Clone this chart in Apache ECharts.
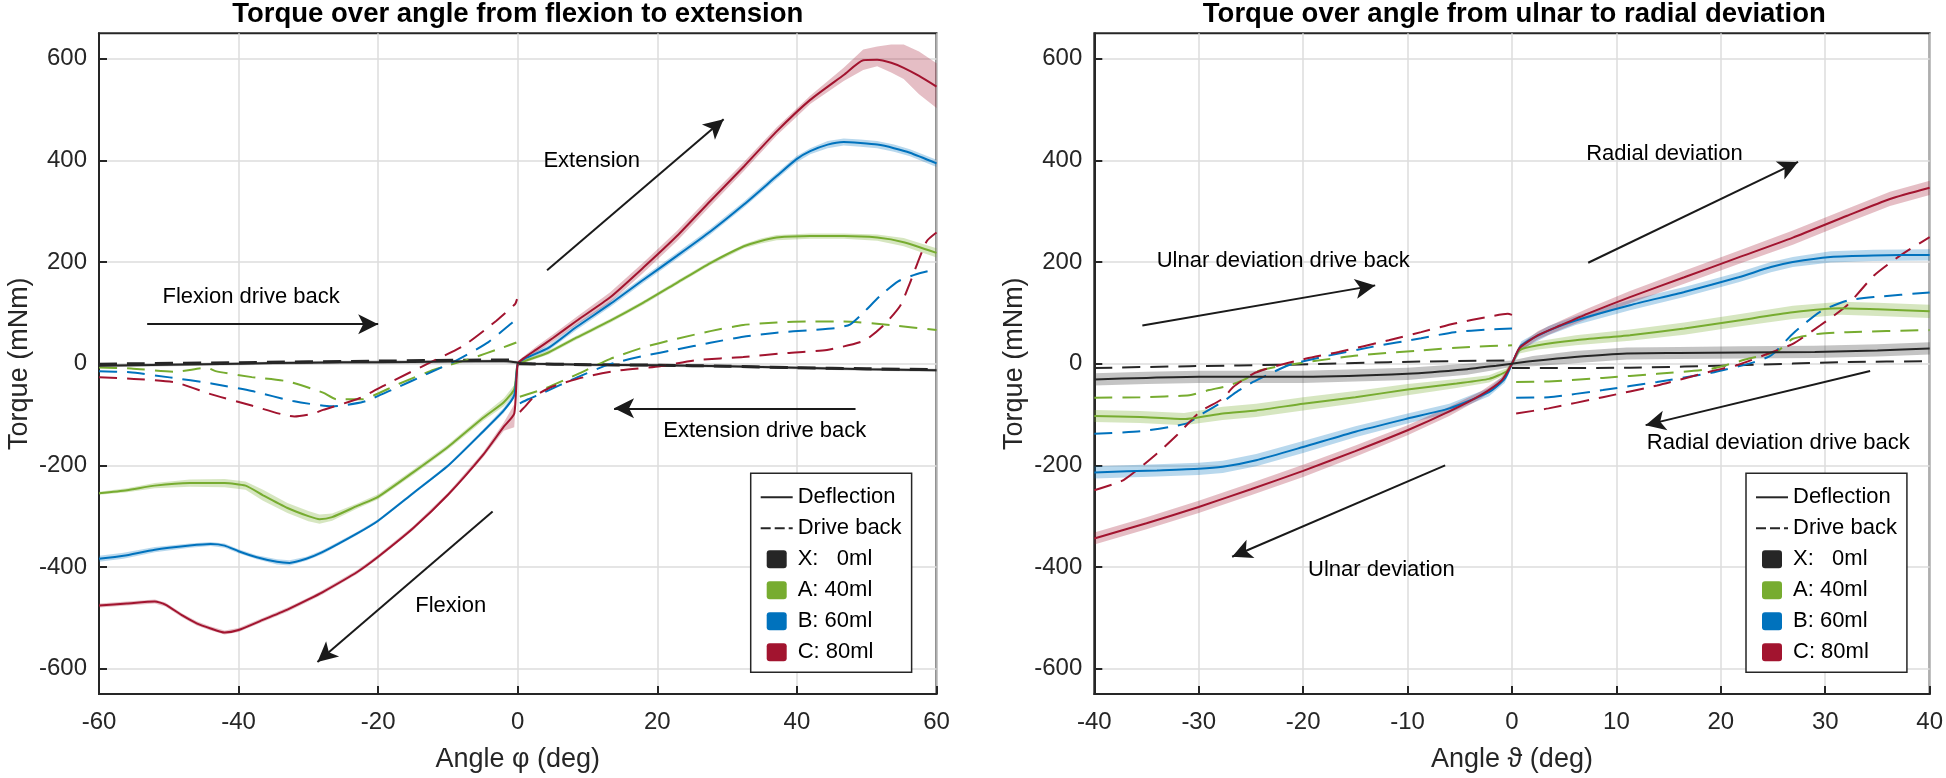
<!DOCTYPE html>
<html><head><meta charset="utf-8">
<script src="https://cdn.jsdelivr.net/npm/echarts@6/dist/echarts.min.js"></script>
<style>html,body{margin:0;padding:0;background:#fff}#c{width:1946px;height:778px}</style>
</head><body><div id="c"></div>
<script>
// ---------------- DATA ----------------
const panelTitles = ['Torque over angle from flexion to extension', 'Torque over angle from ulnar to radial deviation'];
const xAxisNames = ['Angle φ (deg)', 'Angle ϑ (deg)'];
const yAxisName = 'Torque (mNm)';
const xRanges = [[-60, 60, 20], [-40, 40, 10]];
const yRange = [-650, 650];
const yTickValues = [-600, -400, -200, 0, 200, 400, 600];
const legendLabels = ['Deflection', 'Drive back', 'X:   0ml', 'A: 40ml', 'B: 60ml', 'C: 80ml'];

// Left panel: deflection [angle, mean, lower, upper]
const feDefX = [[-60,-4,-7,-1],[-50,-2,-5,1],[-40,0,-3,3],[-30,2,-1,5],[-20,3,0,6],[-10,4,1,7],[-2,5,2,8],[0,2,-1,5],[2,0,-3,3],[10,-2,-5,1],[20,-3,-6,0],[30,-5,-8,-2],[40,-8,-11,-5],[50,-11,-14,-8],[60,-13,-16,-10]];
const feDefA = [[-60,-255,-258,-252],[-56,-249,-253,-245],[-52,-240,-245,-235],[-47,-235,-242,-228],[-42,-235,-243,-227],[-39,-240,-248,-232],[-36.5,-259,-270,-248],[-33,-284,-294,-274],[-30,-300,-310,-290],[-28.4,-306,-315,-297],[-26.6,-302,-309,-295],[-23,-280,-285,-275],[-20,-262,-267,-257],[-15,-214,-219,-209],[-10,-164,-169,-159],[-5,-107,-113,-101],[-2,-76,-84,-68],[-0.5,-50,-58,-42],[0,0,-3,3],[1,5,2,8],[4.4,22,18,26],[8.4,51,47,55],[13.2,84,80,88],[18,120,116,124],[22.8,159,155,163],[27.6,198,194,202],[32.4,231,227,235],[34.7,241,236,246],[37.1,248,243,253],[41.9,251,246,256],[46.7,251,246,256],[51.5,248,242,254],[55.3,239,231,247],[60,218,209,227]];
const feDefB = [[-60,-384,-390,-378],[-56.5,-378,-384,-372],[-52,-366,-371,-361],[-47,-358,-362,-354],[-44,-355,-359,-351],[-42,-358,-362,-354],[-40,-369,-373,-365],[-37.4,-381,-385,-377],[-34.5,-390,-395,-385],[-32.7,-392,-397,-387],[-30.3,-384,-388,-380],[-28,-371,-375,-367],[-23,-334,-337,-331],[-20,-309,-312,-306],[-15,-255,-258,-252],[-10,-201,-204,-198],[-5,-134,-138,-130],[-2,-92,-97,-87],[-0.5,-62,-68,-56],[0,0,-4,4],[1,10,6,14],[4.4,31,26,36],[8.4,72,66,78],[13.2,117,111,123],[18,165,159,171],[22.8,212,206,218],[27.6,260,254,266],[32.4,313,307,319],[37.1,369,363,375],[39.9,402,396,408],[41.9,418,412,424],[44.4,431,424,438],[46.7,436,429,443],[49.1,434,427,441],[51.5,431,424,438],[53.9,424,417,431],[56.2,415,408,422],[60,394,387,401]];
const feDefC = [[-60,-476,-480,-472],[-56,-472,-476,-468],[-52,-468,-472,-464],[-50.5,-474,-478,-470],[-48,-496,-500,-492],[-46,-511,-515,-507],[-44,-521,-525,-517],[-42,-529,-533,-525],[-40,-524,-528,-520],[-37,-507,-511,-503],[-33,-484,-488,-480],[-30,-464,-468,-460],[-28,-450,-454,-446],[-23,-410,-414,-406],[-20,-380,-384,-376],[-15,-324,-328,-320],[-10,-258,-262,-254],[-5,-180,-185,-175],[-2,-124,-132,-116],[-0.5,-98,-125,-80],[0,0,-5,5],[1,12,8,16],[2.7,28,22,34],[5,50,43,57],[8.4,84,76,92],[13.2,130,120,140],[18,189,179,199],[22.8,251,241,261],[27.6,320,310,330],[32.4,388,379,397],[37.1,457,449,465],[41.9,519,511,527],[46.7,568,556,582],[49.5,597,578,618],[51.5,598,585,624],[53.5,592,573,628],[55.3,582,560,628],[57.5,566,530,614],[60,545,503,591]];
// Left panel: flexion drive back [angle, torque]
const feFlexBackX = [[-60,-1],[-40,2],[-20,5],[-5,7],[0,7]];
const feFlexBackA = [[-60,-7.5],[-55.4,-9.5],[-49,-16],[-44.5,-8],[-43.3,-14.7],[-38.1,-26.5],[-32.9,-35],[-27.9,-57],[-26,-70],[-22.3,-70],[-20.7,-63],[-16.9,-39],[-12,-12],[-6.7,10],[-2.2,31.5],[-0.2,41.5]];
const feFlexBackB = [[-60,-15],[-55.6,-17],[-49.9,-27],[-43.9,-39],[-38.1,-54],[-32.2,-73.5],[-26.7,-84],[-22.1,-75],[-17.8,-50],[-12.8,-19],[-8.5,8.5],[-4.2,42.5],[-0.8,80.5],[-0.2,87]];
const feFlexBackC = [[-60,-27],[-55,-30],[-49,-37],[-44,-60],[-38,-83],[-32,-104],[-29.5,-99],[-27.9,-91],[-22.7,-68],[-17.9,-34],[-12.6,2],[-7.8,35],[-3.1,84],[-0.4,117],[-0.1,127]];
// Left panel: extension drive back [angle, torque]
const feExtBackX = [[0,0],[10,-2],[20,-3],[30,-5],[40,-8],[50,-10],[60,-12]];
const feExtBackA = [[0.3,-65],[3.7,-50],[8.5,-21],[13.2,9],[18,32],[22.8,49],[27.6,64],[32.3,76],[37.1,81],[41.9,83],[46.7,83],[53.4,76],[60,66]];
const feExtBackB = [[0.3,-78],[1.5,-70],[3.7,-57],[8.5,-27],[13.2,-1],[18,15],[22.8,28],[27.6,41],[32.3,53],[37.1,61],[41.9,66],[45.5,70],[47.6,77],[49.5,100],[51.9,133],[54.5,162],[57.1,176],[60,186]];
const feExtBackC = [[0.3,-95],[1,-85],[2.5,-63],[5,-45],[9.4,-27],[14.2,-14],[20.4,-5],[25.7,7],[32.3,13],[38.6,21],[44.3,27],[49.6,45],[52.4,75],[54.8,114],[56.2,159],[57.2,195],[58.6,241],[60,258]];

// Right panel: deflection [angle, mean, lower, upper]
const urDefX = [[-40,-31,-43,-19],[-35,-28,-40,-16],[-30,-26,-38,-14],[-20,-26,-38,-14],[-10,-20,-32,-8],[-4.3,-11,-22,0],[-1.5,-4,-12,4],[0,0,-6,6],[2,5,-5,15],[6,13,1,25],[11,20,8,32],[16,21,9,33],[22,22,10,34],[29,23,11,35],[35,26,14,38],[40,30,18,42]];
const urDefA = [[-40,-103,-115,-91],[-35.6,-105,-117,-93],[-31.4,-109,-121,-97],[-27.7,-98,-111,-85],[-24.5,-92,-105,-79],[-20,-79,-92,-66],[-15,-66,-78,-54],[-10,-51,-62,-40],[-5.3,-39,-48,-30],[-2.2,-30,-37,-23],[-0.5,-15,-21,-9],[0,0,-4,4],[0.7,26,20,32],[2.5,36,28,44],[6.1,46,36,56],[11.3,56,45,67],[16.5,69,57,81],[21.7,85,73,97],[26.9,101,88,114],[31.5,109,96,122],[35,107,94,120],[40,103,90,116]];
const urDefB = [[-40,-214,-226,-202],[-34,-210,-222,-198],[-30,-207,-219,-195],[-27.7,-203,-215,-191],[-24.5,-190,-202,-178],[-20,-164,-176,-152],[-15,-134,-145,-123],[-10,-108,-118,-98],[-6,-88,-97,-79],[-2.2,-56,-64,-48],[-0.7,-30,-38,-22],[0,0,-6,6],[0.9,36,28,44],[3.5,65,56,74],[6.1,85,76,94],[11.3,115,105,125],[16.5,141,131,151],[21.7,170,160,180],[24.8,190,180,200],[26.9,200,190,210],[30.5,210,199,221],[34.6,213,202,224],[40,214,203,225]];
const urDefC = [[-40,-344,-356,-332],[-35,-314,-326,-302],[-30,-282,-294,-270],[-25,-247,-259,-235],[-20,-211,-223,-199],[-15,-172,-183,-161],[-10,-131,-141,-121],[-6,-94,-103,-85],[-3,-62,-69,-55],[-1,-33,-39,-27],[0,0,-5,5],[0.7,30,24,36],[2.5,56,48,64],[4.6,75,66,84],[7.2,98,88,108],[11.3,131,119,143],[16.5,170,157,183],[21.7,209,196,222],[26.9,248,234,262],[32.1,291,277,305],[36.2,324,310,338],[40,346,332,360]];
// Right panel: ulnar deviation drive back
const urUlnBackX = [[-40,-8.5],[-30.9,-5],[-21.4,-2],[-11.8,3],[0,6.5]];
const urUlnBackA = [[-40,-67],[-35.6,-66],[-30.9,-62],[-29,-52],[-27.1,-43],[-25.5,-30],[-24.5,-16],[-22.6,-6.5],[-19.7,3],[-14.8,16],[-8.7,26],[-4,33],[0,36]];
const urUlnBackB = [[-40,-138],[-35.6,-133],[-31.2,-118],[-29.6,-98],[-27.7,-75],[-26.4,-56],[-24.8,-36],[-23.2,-20],[-21.4,-3],[-18.2,13],[-13.4,33],[-8.7,50],[-5.5,62],[-2.3,67],[0,69]];
const urUlnBackC = [[-40,-249],[-37.2,-229],[-34,-177],[-32.1,-141],[-29.9,-95],[-27.7,-69],[-26.7,-46],[-24.8,-20],[-22.9,-6.5],[-19.7,10],[-16.6,23],[-11.8,46],[-8.7,62],[-5.5,79],[-2.3,92],[-0.4,98],[0,96]];
// Right panel: radial deviation drive back
const urRadBackX = [[0,-8.5],[11.3,-8],[21.7,-3],[32.1,3],[40,5]];
const urRadBackA = [[0.4,-36],[3.5,-35],[8.7,-28],[13.9,-20],[19.1,-10],[22.7,10],[25.3,23],[26.9,49],[29.5,59],[32.1,62],[40,66]];
const urRadBackB = [[0.4,-67],[3.5,-66],[8.7,-52],[13.9,-36],[19.1,-18],[22.7,0],[24.8,16],[26.9,59],[29.5,102],[32.1,124],[34.7,131],[40,140]];
const urRadBackC = [[0.4,-98],[3.5,-88],[8.7,-66],[13.9,-43],[19.1,-15],[21.7,-2],[24.3,18],[26.9,39],[29.5,75],[32.1,115],[34.7,174],[37.2,213],[40,249]];

// Annotations (data coordinates): arrows [x1, y1, x2, y2], notes [x, y, text]
const feArrows = [[4.2,184,29.5,481],[-53.1,77.6,-20,77.6],[48.4,-88,13.8,-88],[-3.6,-291,-28.7,-587]];
const feNotes = [[10.6,398,'Extension'],[-38.2,131,'Flexion drive back'],[35.4,-133,'Extension drive back'],[-9.6,-476,'Flexion']];
const urArrows = [[7.3,198.5,27.4,397],[-35.4,75,-13.1,154],[34.3,-14.4,12.8,-121],[-6.4,-200,-26.8,-380]];
const urNotes = [[14.6,412,'Radial deviation'],[-21.9,203,'Ulnar deviation drive back'],[25.5,-156,'Radial deviation drive back'],[-12.5,-406,'Ulnar deviation']];

// ---------------- STYLE ----------------
const FONT = '"Liberation Sans", Arial, Helvetica, sans-serif';
const COL = {X: '#262626', A: '#77AC30', B: '#0072BD', C: '#A2142F'};
const BAND = {X: 'rgba(60,60,60,0.30)', A: 'rgba(119,172,48,0.30)', B: 'rgba(0,114,189,0.28)', C: 'rgba(162,20,47,0.28)'};
const TXT = '#262626';
const GRIDS = [
  {left: 99, top: 33.3, width: 837.5, height: 663.4},
  {left: 1094.3, top: 33.3, width: 840, height: 663.4}
];
const LEGEND_POS = [[750.7, 473.3], [1746, 473.3]];
const SWATCH = 'path://M3,0H17Q20,0,20,3V15Q20,18,17,18H3Q0,18,0,15V3Q0,0,3,0Z';
const legendIcons = [
  'path://M0,0H32V2H0Z',
  'path://M0,0H10V2H0Z M14,0H24V2H14Z M28,0H32V2H28Z',
  SWATCH, SWATCH, SWATCH, SWATCH
];
const legendColors = [COL.X, COL.X, COL.X, COL.A, COL.B, COL.C];

// ---------------- BUILD ----------------
function bandSeries(g, key, pts) {
  return {
    type: 'custom', xAxisIndex: g, yAxisIndex: g, silent: true, z: 1, clip: true,
    data: pts, encode: {x: 0, y: 1},
    renderItem: function (params, api) {
      if (params.dataIndex !== 0) return null;
      const up = pts.map(p => api.coord([p[0], p[3]]));
      const lo = pts.map(p => api.coord([p[0], p[2]])).reverse();
      return {type: 'polygon', shape: {points: up.concat(lo)}, style: {fill: BAND[key]}};
    }
  };
}
function lineSeries(g, key, pts, dashed, extra) {
  return Object.assign({
    type: 'line', xAxisIndex: g, yAxisIndex: g, silent: true, z: dashed ? 2 : 3,
    data: pts.map(p => [p[0], p[1]]),
    symbol: 'none', showSymbol: false, smooth: 0.2,
    lineStyle: {color: COL[key], width: (dashed && key === 'X' && g === 0) ? 3 : 2, type: dashed ? [18, 10] : 'solid'},
    itemStyle: {color: COL[key]}
  }, extra || {});
}
function annotations(arrows, notes) {
  return {
    markLine: {
      silent: true, symbol: ['none', 'arrow'], symbolSize: [15, 20],
      lineStyle: {color: '#1a1a1a', width: 2, type: 'solid'},
      label: {show: false},
      data: arrows.map(a => [{coord: [a[0], a[1]]}, {coord: [a[2], a[3]]}])
    },
    markPoint: {
      silent: true, symbol: 'circle', symbolSize: 1, itemStyle: {color: 'rgba(0,0,0,0)'},
      label: {show: true, position: 'inside', formatter: '{b}', fontSize: 22, color: '#000', fontFamily: FONT},
      data: notes.map(n => ({name: n[2], coord: [n[0], n[1]]}))
    }
  };
}

const series = [];
const panels = [
  {def: {X: feDefX, A: feDefA, B: feDefB, C: feDefC},
   back1: {X: feFlexBackX, A: feFlexBackA, B: feFlexBackB, C: feFlexBackC},
   back2: {X: feExtBackX, A: feExtBackA, B: feExtBackB, C: feExtBackC},
   arrows: feArrows, notes: feNotes},
  {def: {X: urDefX, A: urDefA, B: urDefB, C: urDefC},
   back1: {X: urUlnBackX, A: urUlnBackA, B: urUlnBackB, C: urUlnBackC},
   back2: {X: urRadBackX, A: urRadBackA, B: urRadBackB, C: urRadBackC},
   arrows: urArrows, notes: urNotes}
];
panels.forEach((p, g) => {
  ['X', 'A', 'B', 'C'].forEach(k => series.push(bandSeries(g, k, p.def[k])));
  ['X', 'A', 'B', 'C'].forEach(k => {
    series.push(lineSeries(g, k, p.back1[k], true));
    series.push(lineSeries(g, k, p.back2[k], true));
  });
  ['X', 'A', 'B', 'C'].forEach(k => {
    series.push(lineSeries(g, k, p.def[k], false, k === 'X' ? Object.assign({z: 4}, annotations(p.arrows, p.notes)) : null));
  });
});
// legend entries
legendLabels.forEach((name, i) => {
  series.push({type: 'line', name: name, data: [], xAxisIndex: 0, yAxisIndex: 0,
    itemStyle: {color: legendColors[i]}, lineStyle: {color: legendColors[i]}});
});

const axisLineStyle = {color: '#262626', width: 2};
const splitStyle = {color: '#dddddd', width: 1.5};
const option = {
  animation: false,
  backgroundColor: '#fff',
  title: panelTitles.map((t, g) => ({
    text: t, left: GRIDS[g].left + GRIDS[g].width / 2, textAlign: 'center', top: 0, padding: 0,
    textStyle: {fontSize: 27.5, fontWeight: 'bold', color: '#000', fontFamily: FONT}
  })),
  grid: GRIDS.map(gr => Object.assign({show: true, borderColor: '#262626', borderWidth: 2, containLabel: false}, gr)),
  xAxis: xRanges.map((r, g) => ({
    type: 'value', gridIndex: g, min: r[0], max: r[1], interval: r[2],
    axisLine: {show: true, onZero: false, lineStyle: axisLineStyle},
    axisTick: {show: true, inside: true, length: 8, lineStyle: axisLineStyle},
    axisLabel: {fontSize: 24, color: TXT, margin: 16, fontFamily: FONT},
    splitLine: {show: true, lineStyle: splitStyle},
    name: xAxisNames[g], nameLocation: 'middle', nameGap: 52,
    nameTextStyle: {fontSize: 27, color: TXT, fontFamily: FONT}
  })),
  yAxis: [0, 1].map(g => ({
    type: 'value', gridIndex: g, min: yRange[0], max: yRange[1],
    axisLine: {show: true, onZero: false, lineStyle: axisLineStyle},
    axisTick: {show: true, inside: true, length: 8, lineStyle: axisLineStyle, customValues: yTickValues},
    axisLabel: {fontSize: 24, color: TXT, margin: 12, fontFamily: FONT, customValues: yTickValues},
    splitLine: {show: true, lineStyle: splitStyle},
    name: yAxisName, nameLocation: 'middle', nameGap: 66,
    nameTextStyle: {fontSize: 27, color: TXT, fontFamily: FONT}
  })),
  legend: LEGEND_POS.map(pos => ({
    data: legendLabels.map((n, i) => ({name: n, icon: legendIcons[i]})),
    orient: 'vertical', left: pos[0], top: pos[1],
    itemWidth: 32, itemHeight: 18, itemGap: 9, padding: [13, 10, 9, 10],
    borderColor: '#262626', borderWidth: 1.5, backgroundColor: '#fff',
    textStyle: {fontSize: 22, color: '#000', fontFamily: FONT, lineHeight: 22},
    selectedMode: false, z: 10
  })),
  series: series
};
const chart = echarts.init(document.getElementById('c'), null, {renderer: 'canvas'});
chart.setOption(option);
</script></body></html>
